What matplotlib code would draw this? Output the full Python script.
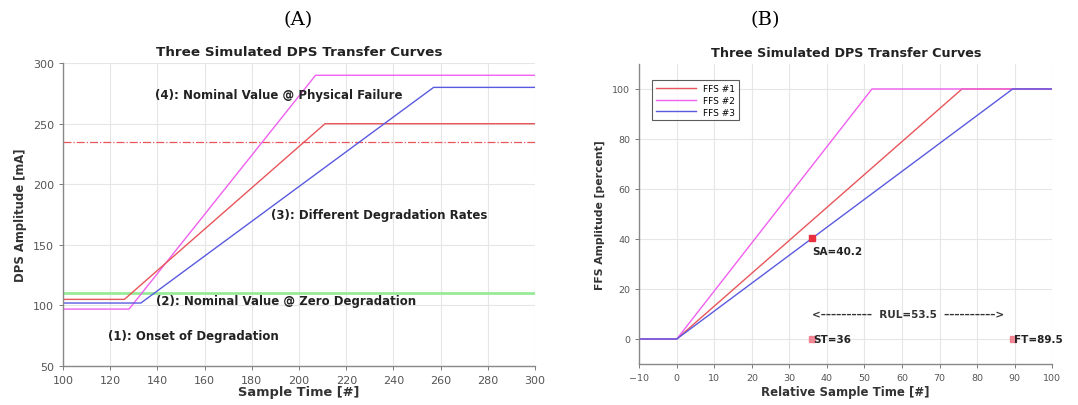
import matplotlib
matplotlib.use("Agg")
import matplotlib.pyplot as plt

plt.rcParams['font.family'] = ['DejaVu Sans']

# ---- Panel A data (Sample Time vs DPS amplitude) ----
a_mag_x = [100, 128, 207, 300]
a_mag_y = [97, 97, 290, 290]
a_red_x = [100, 126, 211, 300]
a_red_y = [105, 105, 250, 250]
a_blu_x = [100, 133, 257, 300]
a_blu_y = [102, 102, 280, 280]
a_green_level = 110
a_fail_level = 235

# ---- Panel B data (Relative sample time vs FFS amplitude) ----
b_red_x = [-10, 0, 76, 100]
b_red_y = [0, 0, 100, 100]
b_mag_x = [-10, 0, 52, 100]
b_mag_y = [0, 0, 100, 100]
b_blu_x = [-10, 0, 89.5, 100]
b_blu_y = [0, 0, 100, 100]
legend_labels = ['FFS #1', 'FFS #2', 'FFS #3']
sa_point = (36, 40.2)
st_point = (36, 0)
ft_point = (89.5, 0)

RED = '#e8555a'
MAG = '#f060f0'
BLU = '#5a5ae0'
GRN = '#98ea98'
TICK = '#666666'

fig = plt.figure(figsize=(10.78, 4.06), dpi=100)

def style(ax, lsize):
    ax.grid(True, color='#e6e6e6', linewidth=0.8)
    ax.set_axisbelow(True)
    for s in ['top', 'right']:
        ax.spines[s].set_visible(False)
    for s in ['left', 'bottom']:
        ax.spines[s].set_color('#888888')
        ax.spines[s].set_linewidth(1.0)
    ax.tick_params(colors=TICK, labelsize=lsize, length=3, width=0.6,
                   labelcolor='#555555')

# ---------- Panel A ----------
axA = fig.add_axes([0.0584, 0.096, 0.438, 0.746])
style(axA, 8)
axA.axhline(a_green_level, color=GRN, lw=2.0)
axA.axhline(a_fail_level, color=RED, lw=0.9, ls='-.')
axA.plot(a_mag_x, a_mag_y, color=MAG, lw=1.0)
axA.plot(a_red_x, a_red_y, color=RED, lw=1.0)
axA.plot(a_blu_x, a_blu_y, color=BLU, lw=1.0)
axA.set_xlim(100, 300)
axA.set_ylim(50, 300)
axA.set_xticks(range(100, 301, 20))
axA.set_yticks(range(50, 301, 50))
axA.set_title('Three Simulated DPS Transfer Curves', fontsize=9.7,
              fontweight='bold', color='#222222', pad=6)
axA.set_xlabel('Sample Time [#]', fontsize=9.4, fontweight='bold',
               color='#333333', labelpad=0)
axA.set_ylabel('DPS Amplitude [mA]', fontsize=8.4, fontweight='bold',
               color='#333333', labelpad=4)
tk = dict(fontsize=8.5, fontweight='bold', color='#222222', va='center', ha='left')
axA.text(139, 274, '(4): Nominal Value @ Physical Failure', **tk)
axA.text(188, 175, '(3): Different Degradation Rates', **tk)
axA.text(139.5, 104, '(2): Nominal Value @ Zero Degradation', **tk)
axA.text(119, 75, '(1): Onset of Degradation', **tk)

# ---------- Panel B ----------
axB = fig.add_axes([0.593, 0.101, 0.383, 0.739])
style(axB, 6.8)
axB.plot(b_red_x, b_red_y, color=RED, lw=1.0, label=legend_labels[0])
axB.plot(b_mag_x, b_mag_y, color=MAG, lw=1.0, label=legend_labels[1])
axB.plot(b_blu_x, b_blu_y, color=BLU, lw=1.0, label=legend_labels[2])
axB.plot([sa_point[0]], [sa_point[1]], 's', color='#e83040', ms=5)
axB.plot([st_point[0], ft_point[0]], [st_point[1], ft_point[1]], 's',
         color='#f07080', ms=5, alpha=0.8)
axB.set_xlim(-10, 100)
axB.set_ylim(-10, 110)
axB.set_xticks(range(-10, 101, 10))
axB.set_yticks(range(0, 101, 20))
axB.set_title('Three Simulated DPS Transfer Curves', fontsize=9.2,
              fontweight='bold', color='#222222', pad=6)
axB.set_xlabel('Relative Sample Time [#]', fontsize=8.5, fontweight='bold',
               color='#333333', labelpad=2)
axB.set_ylabel('FFS Amplitude [percent]', fontsize=7.8, fontweight='bold',
               color='#333333', labelpad=5)
tb = dict(fontsize=7.5, fontweight='bold', color='#222222', va='center', ha='left')
axB.text(sa_point[0], 35, 'SA=40.2', **tb)
axB.text(st_point[0] + 0.3, 0, 'ST=36', **tb)
axB.text(ft_point[0] + 0.3, 0, 'FT=89.5', **tb)
axB.text(36, 10, '<' + '\u2013' * 10 + '  RUL=53.5  ' + '\u2013' * 10 + '>',
         fontsize=7.5, fontweight='bold', color='#333333', va='center', ha='left')
leg = axB.legend(loc='upper left', fontsize=6.5, frameon=True, fancybox=False,
                 handlelength=4.5, borderpad=0.4, labelspacing=0.3,
                 bbox_to_anchor=(0.02, 0.96))
leg.get_frame().set_edgecolor('#333333')
leg.get_frame().set_linewidth(0.8)

# panel labels
fig.text(0.277, 0.95, '(A)', fontsize=14, family='DejaVu Serif',
         ha='center', va='center')
fig.text(0.71, 0.95, '(B)', fontsize=14, family='DejaVu Serif',
         ha='center', va='center')

fig.savefig('out.png', dpi=100)
